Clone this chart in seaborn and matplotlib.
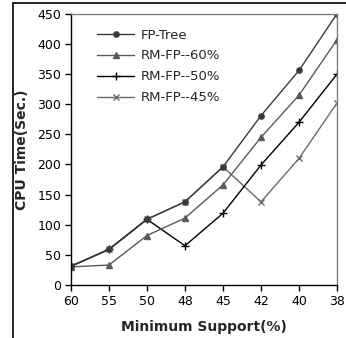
import pandas as pd
import numpy as np
import matplotlib.pyplot as plt
import seaborn as sns
from matplotlib.lines import Line2D

sns.set_style("white")
plt.rcParams['font.family'] = ['DejaVu Sans']

#### data
support = ['60', '55', '50', '48', '45', '42', '40', '38']
fp_tree = [31, 59, 109, 138, 196, 281, 356, 450]
rm_fp_60 = [30, 33, 82, 111, 166, 245, 315, 407]
rm_fp_50 = [31, 59, 109, 65, 119, 199, 270, 350]
rm_fp_45 = [31, 59, 109, 138, 196, 138, 210, 302]

series = ['FP-Tree', 'RM-FP--60%', 'RM-FP--50%', 'RM-FP--45%']
colors = ['#3a3a3a', '#5a5a5a', '#000000', '#6a6a6a']
markers = ['o', '^', '+', 'x']
msizes = [3.8, 4.8, 5.5, 5]

rows = []
for name, vals in zip(series, [fp_tree, rm_fp_60, rm_fp_50, rm_fp_45]):
    for i, v in enumerate(vals):
        rows.append({'pos': i, 'support': support[i], 'time': v, 'series': name})
df = pd.DataFrame(rows)

fig = plt.figure(figsize=(3.46, 3.38), dpi=100)
ax = fig.add_axes([0.205, 0.157, 0.769, 0.802])

# draw in reverse so FP-Tree sits on top
for name, c, m, ms in reversed(list(zip(series, colors, markers, msizes))):
    sns.lineplot(data=df[df['series'] == name], x='pos', y='time', ax=ax,
                 color=c, marker=m, markersize=ms, markeredgecolor=c,
                 markeredgewidth=1.0, linewidth=1.0, sort=False, legend=False)

ax.set_xlim(0, 7)
ax.set_ylim(0, 450)
ax.set_xticks(range(len(support)))
ax.set_xticklabels(support)
ax.set_yticks(np.arange(0, 451, 50))
ax.tick_params(axis='both', labelsize=9, direction='out', length=4, width=1,
               bottom=True, left=True, pad=3, colors='black')
ax.set_xlabel('Minimum Support(%)', fontsize=10, fontweight='bold', labelpad=9)
ax.set_ylabel('CPU Time(Sec.)', fontsize=10, fontweight='bold', labelpad=6)

for s in ['left', 'bottom']:
    ax.spines[s].set_color('black')
    ax.spines[s].set_linewidth(1.0)
for s in ['top', 'right']:
    ax.spines[s].set_color('#808080')
    ax.spines[s].set_linewidth(1.0)

handles = [Line2D([], [], color=c, marker=m, markersize=ms, markeredgecolor=c,
                  linewidth=1.0) for c, m, ms in zip(colors, markers, msizes)]
ax.legend(handles, series, loc='upper left', bbox_to_anchor=(0.07, 0.975),
          frameon=False, fontsize=9.5, handlelength=2.8, handletextpad=0.5,
          labelspacing=0.6, borderaxespad=0.2)

# outer border of the picture
fig.add_artist(Line2D([13 / 346, 13 / 346], [0, 1 - 3 / 338], transform=fig.transFigure,
                      color='black', linewidth=1.2))
fig.add_artist(Line2D([13 / 346, 1], [1 - 3 / 338, 1 - 3 / 338], transform=fig.transFigure,
                      color='black', linewidth=1.2))

fig.savefig('out.png', dpi=100)
